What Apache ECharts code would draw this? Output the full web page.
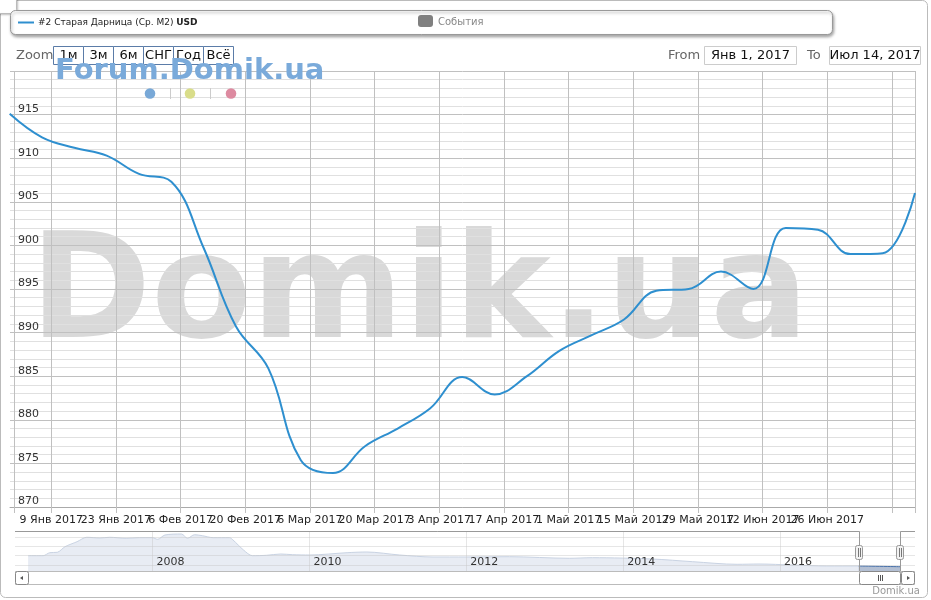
<!DOCTYPE html>
<html><head><meta charset="utf-8">
<script src="https://cdn.jsdelivr.net/npm/echarts@6/dist/echarts.min.js"></script>
<style>html,body{margin:0;padding:0;background:#fff}#c{width:931px;height:600px}</style>
</head><body><div id="c"></div>
<script>
// ---- data ----
const mainDates = ['2016-12-31','2017-01-07','2017-01-14','2017-01-21','2017-01-28','2017-02-04','2017-02-11','2017-02-18','2017-02-25','2017-03-04','2017-03-11','2017-03-18','2017-03-25','2017-04-01','2017-04-08','2017-04-15','2017-04-22','2017-04-29','2017-05-06','2017-05-13','2017-05-20','2017-05-27','2017-06-03','2017-06-10','2017-06-17','2017-06-24','2017-07-01','2017-07-08','2017-07-15'];
const mainValues = [915.1,912.4,911.2,910.3,908.2,907.3,899.7,890.7,885.9,875.4,873.9,877.0,879.0,881.3,884.9,882.9,885.0,887.9,889.7,891.5,894.8,895.0,897.0,895.0,902.0,901.8,899.0,899.1,906.0];
const xLabelDates = ['2017-01-09','2017-01-23','2017-02-06','2017-02-20','2017-03-06','2017-03-20','2017-04-03','2017-04-17','2017-05-01','2017-05-15','2017-05-29','2017-06-12','2017-06-26'];
const xExtraGrid = ['2017-01-01','2017-07-10'];
const yMin = 870, yMax = 920, yStep = 5;
const navDates = ['2006-06-01','2006-08-10','2006-09-10','2006-10-15','2006-11-20','2007-01-15','2007-03-01','2007-05-01','2007-06-15','2007-09-01','2007-11-01','2008-01-01','2008-01-25','2008-02-28','2008-05-15','2008-06-12','2008-07-15','2008-08-20','2008-10-10','2008-12-25','2009-01-10','2009-02-28','2009-04-10','2009-06-15','2009-08-20','2009-10-15','2010-01-01','2010-06-25','2010-09-25','2011-02-25','2011-07-30','2012-01-01','2012-07-20','2013-04-25','2013-08-10','2014-05-15','2014-11-20','2015-06-15','2015-09-25','2016-02-25','2016-08-05','2017-01-01','2017-07-14'];
const navValues = [1495,1495,1655,1676,1974,2240,2474,2437,2474,2421,2453,2453,2367,2596,2649,2421,2612,2559,2453,2453,2330,1798,1495,1516,1585,1548,1532,1655,1692,1532,1426,1426,1442,1357,1389,1319,1176,1037,1053,1000,947,947,910];
const navYears = ['2008-01-01','2010-01-01','2012-01-01','2014-01-01','2016-01-01'];
const rangeFrom = '2017-01-01', rangeTo = '2017-07-14', lastPoint = '2017-07-15';
const seriesName = '#2 Старая Дарница (Ср. М2)';
const zoomButtons = ['1м','3м','6м','СНГ','Год','Всё'];
const monthsRu = ['Янв','Фев','Мар','Апр','Май','Июн','Июл','Авг','Сен','Окт','Ноя','Дек'];

// ---- helpers ----
function ts(s){const p=s.split('-').map(Number);return new Date(p[0],p[1]-1,p[2]).getTime();}
const DAY = 864e5;
const F = '"DejaVu Sans", Verdana, sans-serif';
const mainMin = ts(rangeFrom) - 0.93*DAY, mainMax = ts(lastPoint);
const navMin = ts('2006-04-01'), navMax = ts('2017-09-20');
const mainData = mainDates.map((d,i)=>[ts(d), mainValues[i]]);
const navData = navDates.map((d,i)=>[ts(d), navValues[i]]);
const navSel = navData.filter(p=>p[0]>=ts(rangeFrom) && p[0]<=ts(rangeTo));
const labelTs = xLabelDates.map(ts);
const tickTs = [ts(xExtraGrid[0])].concat(labelTs, [ts(xExtraGrid[1]), mainMax]);
function fmtDate(v){if(labelTs.indexOf(v)<0)return '';const d=new Date(v);return d.getDate()+' '+monthsRu[d.getMonth()]+' '+d.getFullYear();}
function fmtBox(s){const d=new Date(ts(s));return monthsRu[d.getMonth()]+' '+d.getDate()+', '+d.getFullYear();}

const chart = echarts.init(document.getElementById('c'), null, {renderer:'canvas'});
const option = {
  animation:false,
  backgroundColor:'#fff',
  textStyle:{fontFamily:F},
  grid:[
    {left:10,right:16,top:71,bottom:93},
    {left:15,right:16,top:531,bottom:29}
  ],
  xAxis:[
    {type:'value',gridIndex:0,min:mainMin,max:mainMax,scale:true,
     axisLine:{show:true,onZero:false,lineStyle:{color:'#aaa'}},
     axisTick:{show:true,customValues:tickTs,length:6,lineStyle:{color:'#c0c0c0'}},
     axisLabel:{customValues:tickTs,interval:0,formatter:fmtDate,fontSize:11,color:'#222',margin:8,fontFamily:F,hideOverlap:false},
     splitLine:{show:true,lineStyle:{color:'#c0c0c0',width:1}}},
    {type:'value',gridIndex:1,min:navMin,max:navMax,scale:true,z:5,
     axisLine:{show:false,onZero:false},
     axisTick:{show:false,customValues:navYears.map(ts)},
     axisLabel:{customValues:navYears.map(ts),interval:0,inside:true,align:'left',margin:3,padding:[0,0,0,4],fontSize:11,color:'#333',fontFamily:F,formatter:v=>String(new Date(v).getFullYear())},
     splitLine:{show:true,lineStyle:{color:'rgba(200,200,200,0.45)'}}}
  ],
  yAxis:[
    {type:'value',gridIndex:0,min:yMin,max:yMax,interval:yStep,
     axisLine:{show:false},axisTick:{show:false},
     axisLabel:{inside:true,margin:8,fontSize:11,color:'#333',verticalAlign:'bottom',fontFamily:F,formatter:v=>v===yMax?'':String(v)},
     splitLine:{lineStyle:{color:'#c0c0c0'}},
     minorTick:{show:false,splitNumber:5},
     minorSplitLine:{show:true,lineStyle:{color:'#e0e0e0'}}},
    {type:'value',gridIndex:1,min:681,max:2809,splitNumber:4,z:5,
     axisLine:{show:false},axisTick:{show:false},axisLabel:{show:false},
     splitLine:{lineStyle:{color:'rgba(200,200,200,0.45)'}}}
  ],
  series:[
    {type:'line',name:seriesName,xAxisIndex:0,yAxisIndex:0,data:mainData,smooth:0.4,showSymbol:false,
     lineStyle:{color:'#2e8fcf',width:2},itemStyle:{color:'#2e8fcf'},z:5},
    {type:'line',xAxisIndex:1,yAxisIndex:1,data:navData,smooth:0.3,showSymbol:false,z:1,
     lineStyle:{color:'#c9d3e3',width:1},areaStyle:{color:'#e8ecf4',origin:'start',opacity:1}},
    {type:'line',xAxisIndex:1,yAxisIndex:1,data:navSel,smooth:0.3,showSymbol:false,z:2,
     lineStyle:{color:'#4a72aa',width:1},areaStyle:{color:'#b3bfd3',origin:'start',opacity:1}}
  ]
};
chart.setOption(option);

// ---- decorations (positions derived from axes where they concern data) ----
const sx = chart.convertToPixel({xAxisIndex:1}, ts(rangeFrom));
const ex = chart.convertToPixel({xAxisIndex:1}, ts(rangeTo));
const navTop = 531.5, navBot = 571.5, navL = 15, navR = 915;
const g = [];
g.push({type:'rect',shape:{x:0.5,y:0.5,width:927,height:597,r:5},style:{fill:null,stroke:'#bbb',lineWidth:1},z:1});
g.push({type:'rect',shape:{x:-4.5,y:-4.5,width:21,height:18,r:4},style:{fill:'#fff',stroke:'#bbb',lineWidth:1,shadowBlur:2,shadowColor:'rgba(0,0,0,0.2)',shadowOffsetX:1,shadowOffsetY:1},z:2});
g.push({type:'text',x:30,y:372,style:{text:'Domik.ua',font:'bold 146px "DejaVu Sans"',fill:'#d9d9d9',align:'left',verticalAlign:'bottom'},z:-1});
g.push({type:'rect',shape:{x:10.5,y:10.5,width:822,height:24,r:5},style:{fill:'#fff',stroke:'#999',lineWidth:1,shadowBlur:3,shadowColor:'rgba(0,0,0,0.35)',shadowOffsetX:1,shadowOffsetY:2},z:10});
g.push({type:'line',shape:{x1:18,y1:22.5,x2:34,y2:22.5},style:{stroke:'#2e8fcf',lineWidth:2},z:11});
g.push({type:'text',x:38,y:23,style:{text:seriesName+' {b|USD}',font:'9px "DejaVu Sans"',fill:'#222',verticalAlign:'middle',rich:{b:{fontWeight:'bold',fontSize:9,fontFamily:'DejaVu Sans',fill:'#222'}}},z:11});
g.push({type:'rect',shape:{x:418,y:15,width:15,height:12,r:3},style:{fill:'#808080'},z:11});
g.push({type:'text',x:438,y:22.5,style:{text:'События',font:'10px "DejaVu Sans"',fill:'#888',verticalAlign:'middle'},z:11});
g.push({type:'text',x:16,y:56,style:{text:'Zoom',font:'13px "DejaVu Sans"',fill:'#666',verticalAlign:'middle'},z:11});
zoomButtons.forEach((t,i)=>{
  const x=53.5+i*30;
  g.push({type:'rect',shape:{x:x,y:46.5,width:30,height:18},style:{fill:'#fff',stroke:'#5b7ca8',lineWidth:1},z:11});
  g.push({type:'text',x:x+15,y:56,style:{text:t,font:'13px "DejaVu Sans"',fill:'#111',align:'center',verticalAlign:'middle'},z:12});
});
g.push({type:'text',x:668,y:56,style:{text:'From',font:'13px "DejaVu Sans"',fill:'#666',verticalAlign:'middle'},z:11});
g.push({type:'rect',shape:{x:704.5,y:46.5,width:92,height:18},style:{fill:'#fff',stroke:'#ccc',lineWidth:1},z:11});
g.push({type:'text',x:750.5,y:56,style:{text:fmtBox(rangeFrom),font:'13px "DejaVu Sans"',fill:'#111',align:'center',verticalAlign:'middle'},z:12});
g.push({type:'text',x:807,y:56,style:{text:'To',font:'13px "DejaVu Sans"',fill:'#666',verticalAlign:'middle'},z:11});
g.push({type:'rect',shape:{x:829.5,y:46.5,width:91,height:18},style:{fill:'#fff',stroke:'#ccc',lineWidth:1},z:11});
g.push({type:'text',x:875,y:56,style:{text:fmtBox(rangeTo),font:'13px "DejaVu Sans"',fill:'#111',align:'center',verticalAlign:'middle'},z:12});
g.push({type:'text',x:55,y:71,style:{text:'Forum.Domik.ua',font:'bold 29px "DejaVu Sans"',fill:'#7aaada',verticalAlign:'middle'},z:13});
g.push({type:'circle',shape:{cx:150,cy:93.5,r:5.3},style:{fill:'#78a8d7'},z:13});
g.push({type:'circle',shape:{cx:190,cy:93.5,r:5.3},style:{fill:'#d9dd8a'},z:13});
g.push({type:'circle',shape:{cx:231,cy:93.5,r:5.3},style:{fill:'#dd8aa0'},z:13});
g.push({type:'line',shape:{x1:170.5,y1:88,x2:170.5,y2:99},style:{stroke:'#ccc',lineWidth:1},z:13});
g.push({type:'line',shape:{x1:210.5,y1:88,x2:210.5,y2:99},style:{stroke:'#ccc',lineWidth:1},z:13});
g.push({type:'polyline',shape:{points:[[navL,navTop],[Math.round(sx)+0.5,navTop],[Math.round(sx)+0.5,navBot],[Math.round(ex)+0.5,navBot],[Math.round(ex)+0.5,navTop],[navR,navTop]]},style:{stroke:'#999',fill:null,lineWidth:1},z:20});
[sx,ex].forEach(px=>{
  const x=Math.round(px);
  g.push({type:'rect',shape:{x:x-3.5,y:545.5,width:7,height:14,r:2},style:{fill:'#f2f2f2',stroke:'#999',lineWidth:1},z:21});
  g.push({type:'line',shape:{x1:x-0.5,y1:548,x2:x-0.5,y2:557},style:{stroke:'#777',lineWidth:1},z:22});
  g.push({type:'line',shape:{x1:x+1.5,y1:548,x2:x+1.5,y2:557},style:{stroke:'#777',lineWidth:1},z:22});
});
g.push({type:'rect',shape:{x:navL+0.5,y:571.5,width:navR-navL-1,height:13},style:{fill:'#fff',stroke:'#bbb',lineWidth:1},z:20});
g.push({type:'rect',shape:{x:navL+0.5,y:571.5,width:13,height:13,r:2},style:{fill:'#fff',stroke:'#888',lineWidth:1},z:21});
g.push({type:'polygon',shape:{points:[[20,578],[23,576],[23,580]]},style:{fill:'#555'},z:22});
g.push({type:'rect',shape:{x:navR-13.5,y:571.5,width:13,height:13,r:2},style:{fill:'#fff',stroke:'#888',lineWidth:1},z:21});
g.push({type:'polygon',shape:{points:[[910,578],[907,576],[907,580]]},style:{fill:'#555'},z:22});
g.push({type:'rect',shape:{x:Math.round(sx)+0.5,y:571.5,width:Math.round(ex)-Math.round(sx),height:13,r:2},style:{fill:'#fff',stroke:'#888',lineWidth:1},z:21});
const mid = Math.round((sx+ex)/2);
[-2,0,2].forEach(o=>g.push({type:'line',shape:{x1:mid+o+0.5,y1:575,x2:mid+o+0.5,y2:581},style:{stroke:'#555',lineWidth:1},z:22}));
g.push({type:'text',x:920,y:591,style:{text:'Domik.ua',font:'10px "DejaVu Sans"',fill:'#999',align:'right',verticalAlign:'middle'},z:20});
chart.setOption({graphic:{elements:g}});
</script></body></html>
